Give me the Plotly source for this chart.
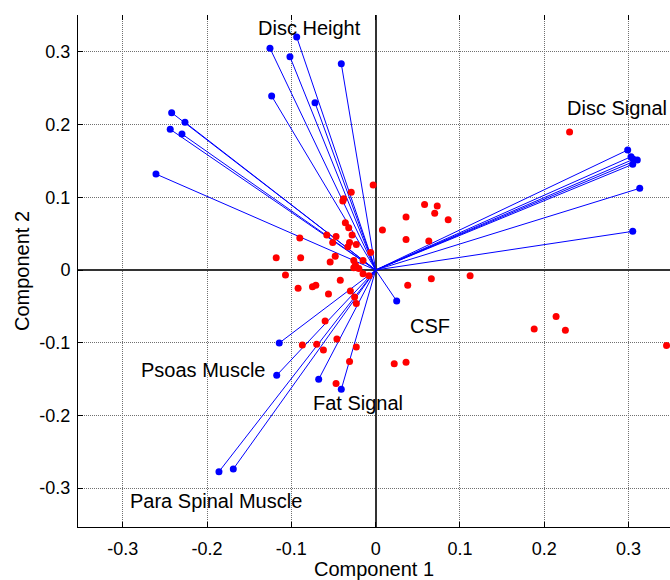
import plotly.graph_objects as go

# ---------------- data ----------------
# Variable loading vectors (Component 1, Component 2)
disc_height_x = [-0.1254, -0.0937, -0.1017, -0.0408, -0.1234, -0.0720]
disc_height_y = [0.3050, 0.3205, 0.2934, 0.2838, 0.2393, 0.2301]
vert_height_x = [-0.2420, -0.2262, -0.2437, -0.2298, -0.2606]
vert_height_y = [0.2164, 0.2032, 0.1935, 0.1871, 0.1320]
disc_signal_x = [0.2989, 0.3029, 0.3056, 0.3103, 0.3049, 0.3132, 0.3049]
disc_signal_y = [0.1651, 0.1559, 0.1523, 0.1513, 0.1454, 0.1124, 0.0532]
csf_x = [0.0249]
csf_y = [-0.0426]
psoas_x = [-0.1144, -0.1174]
psoas_y = [-0.1004, -0.1448]
fat_signal_x = [-0.0676, -0.0408]
fat_signal_y = [-0.1503, -0.1641]
para_spinal_x = [-0.1859, -0.1689]
para_spinal_y = [-0.2774, -0.2737]

# Observation scores
score_x = [0.230, -0.003, -0.029, -0.038, -0.039, 0.058, 0.073, 0.070, 0.036, 0.086,
           -0.036, -0.032, 0.008, -0.028, -0.090, -0.058, -0.047, 0.036, 0.063, -0.031,
           -0.051, -0.023, -0.033, -0.006, -0.118, -0.089, -0.048, -0.054, -0.015, -0.026,
           -0.024, -0.026, -0.020, -0.015, -0.008, -0.107, 0.112, 0.066, -0.042, -0.071,
           -0.075, -0.092, 0.038, -0.056, -0.030, -0.025, -0.023, -0.060, 0.214, 0.188,
           0.225, -0.087, -0.070, -0.046, -0.062, -0.023, 0.345, 0.022, 0.036, -0.031,
           -0.047]
score_y = [0.190, 0.117, 0.107, 0.098, 0.095, 0.090, 0.088, 0.078, 0.073, 0.069,
           0.065, 0.058, 0.055, 0.048, 0.044, 0.048, 0.046, 0.042, 0.040, 0.038,
           0.038, 0.035, 0.032, 0.024, 0.017, 0.017, 0.019, 0.011, 0.013, 0.013,
           0.007, 0.003, 0.002, -0.005, -0.008, -0.007, -0.008, -0.012, -0.014, -0.021,
           -0.023, -0.025, -0.021, -0.033, -0.029, -0.037, -0.046, -0.070, -0.064, -0.081,
           -0.083, -0.103, -0.102, -0.095, -0.110, -0.106, -0.104, -0.129, -0.127, -0.126,
           -0.156]

# Label text and anchor positions
label_text = ["Disc Height", "Verterbral Height", "Disc Signal", "CSF",
              "Psoas Muscle", "Fat Signal", "Para Spinal Muscle"]
label_x = [-0.1414, -0.3547, 0.2246, 0.0387, -0.2808, -0.0771, -0.2942]
label_y = [0.3325, 0.2350, 0.2230, -0.0773, -0.1376, -0.1827, -0.3180]

tick_vals = [-0.3, -0.2, -0.1, 0, 0.1, 0.2, 0.3]
tick_text = ["-0.3", "-0.2", "-0.1", "0", "0.1", "0.2", "0.3"]

# ---------------- figure ----------------
vec_x = disc_height_x + vert_height_x + disc_signal_x + csf_x + psoas_x + fat_signal_x + para_spinal_x
vec_y = disc_height_y + vert_height_y + disc_signal_y + csf_y + psoas_y + fat_signal_y + para_spinal_y

line_x, line_y = [], []
for vx, vy in zip(vec_x, vec_y):
    line_x += [0, vx, None]
    line_y += [0, vy, None]

FONT = "Liberation Sans, Arial, Helvetica, sans-serif"
BLUE = "#0000FF"
RED = "#FF0000"

fig = go.Figure()
# invisible copy on the top axis so its (tick-only) axis gets drawn
fig.add_trace(go.Scatter(x=score_x, y=score_y, xaxis="x2", yaxis="y", mode="markers",
                         marker=dict(opacity=0), showlegend=False, hoverinfo="skip"))
fig.add_trace(go.Scatter(x=line_x, y=line_y, mode="lines",
                         line=dict(color=BLUE, width=1), hoverinfo="skip",
                         showlegend=False))
fig.add_trace(go.Scatter(x=vec_x, y=vec_y, mode="markers",
                         marker=dict(color=BLUE, size=7), showlegend=False))
fig.add_trace(go.Scatter(x=score_x, y=score_y, mode="markers",
                         marker=dict(color=RED, size=7), showlegend=False))

for t, x, y in zip(label_text, label_x, label_y):
    fig.add_annotation(x=x, y=y, text=t, showarrow=False, xanchor="left",
                       yanchor="middle", font=dict(family=FONT, size=20, color="black"))

axis_common = dict(
    tickmode="array", tickvals=tick_vals, ticktext=tick_text,
    ticks="inside", ticklen=5, tickcolor="black", tickwidth=1,
    showline=True, linecolor="black", linewidth=1, mirror=False,
    showgrid=True, gridcolor="#707070", griddash="1px,1px", gridwidth=1,
    zeroline=True, zerolinecolor="#333333", automargin=False,
    tickfont=dict(family=FONT, size=18, color="black"),
)

fig.update_layout(
    width=670, height=580,
    margin=dict(l=78, r=0, t=15, b=53),
    paper_bgcolor="white", plot_bgcolor="white",
    font=dict(family=FONT, color="black"),
    xaxis=dict(range=[-0.3531, 0.3491], zerolinewidth=1.5,
               title=dict(text="Component 1", font=dict(family=FONT, size=20), standoff=2),
               ticklabelstandoff=5, **axis_common),
    yaxis=dict(range=[-0.3535, 0.3508], zerolinewidth=2,
               title=dict(text="Component 2", font=dict(family=FONT, size=20), standoff=4),
               ticklabelstandoff=3, **axis_common),
    xaxis2=dict(overlaying="x", side="top", anchor="y",
                range=[-0.3531, 0.3491],
                tickmode="array", tickvals=tick_vals, ticks="inside", ticklen=5,
                tickcolor="black", showticklabels=False, showline=False,
                showgrid=False, zeroline=False, automargin=False),
)

fig.write_html(
    "out.html",
    config={"displayModeBar": False},
    post_script="document.body.style.margin='0';document.body.style.overflow='hidden';",
)
